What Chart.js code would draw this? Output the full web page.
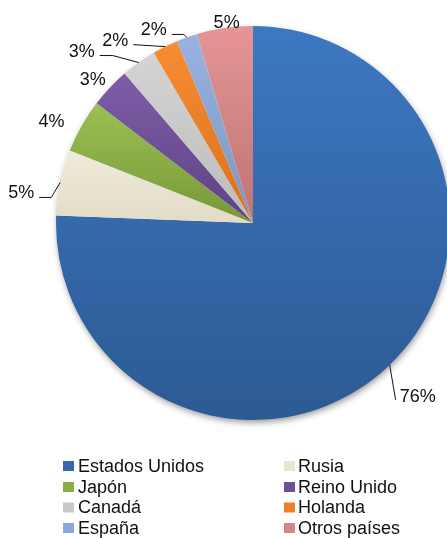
<!DOCTYPE html>
<html>
<head>
<meta charset="utf-8">
<script src="https://cdn.jsdelivr.net/npm/chart.js@4/dist/chart.umd.min.js"></script>
<style>
html,body{margin:0;padding:0;background:#fff;}
#wrap{width:447px;height:538px;position:relative;}
</style>
</head>
<body>
<div id="wrap"><canvas id="c" width="447" height="538"></canvas></div>
<script>
// ---- data ----
const categories = ["Estados Unidos","Rusia","Japón","Reino Unido","Canadá","Holanda","España","Otros países"];
const shares = [75.6, 5.4, 4.4, 3.3, 2.9, 2.1, 1.7, 4.6];

// ---- styles ----
const topColors    = ["#3D78C2","#EFEBDA","#9CC052","#7F5DA7","#D4D4D4","#F88C33","#98B3E1","#E69595"];
const bottomColors = ["#2C5A93","#E2DCC6","#789739","#5D4384","#BBBBBB","#D8711F","#7C96C0","#BC7474"];
const legendColors = ["#3768AC","#EAE5D1","#8AAE46","#6D5096","#C9C9C9","#EC7F2A","#8CA8D8","#D58585"];
const R = 197;
const FONT = '18px "Liberation Sans", Arial, sans-serif';
// label placement relative to slice edge point: [dx, dy, leader?, knee]
const labelLayout = [
  {dx:28, dy:32, leader:true, knee:0, side:'left'},
  {dx:-39, dy:11, leader:true, knee:12, side:'right'},
  {dx:-30, dy:-4, leader:false},
  {dx:-17, dy:-8, leader:false},
  {dx:-57, dy:-11, leader:true, knee:13, side:'right'},
  {dx:-50, dy:-6, leader:true, knee:0, side:'right'},
  {dx:-33, dy:-7, leader:true, knee:12, side:'right'},
  {dx:2, dy:-5, leader:false}
];

const total = shares.reduce((a,b)=>a+b,0);
function sliceAngles(i){
  let s=0; for(let k=0;k<i;k++) s+=shares[k];
  const a0 = s/total*2*Math.PI, a1=(s+shares[i])/total*2*Math.PI;
  return [a0,a1];
}
function centerOf(chart){
  const a=chart.chartArea; return {x:(a.left+a.right)/2, y:(a.top+a.bottom)/2};
}
function pt(c,r,th){ return {x:c.x+r*Math.sin(th), y:c.y-r*Math.cos(th)}; }

function sliceFill(ctx){
  const i = ctx.dataIndex;
  const chart = ctx.chart;
  if(!chart.chartArea || i===undefined) return legendColors[i||0];
  const c = centerOf(chart);
  const [a0,a1] = sliceAngles(i);
  const ys=[c.y, pt(c,R,a0).y, pt(c,R,a1).y];
  if(a0<=0 && a1>=0) ys.push(c.y-R);
  if(a0<=Math.PI && a1>=Math.PI) ys.push(c.y+R);
  if(a0<=2*Math.PI && a1>=2*Math.PI) ys.push(c.y-R);
  const yt=Math.min(...ys), yb=Math.max(...ys);
  const g = chart.ctx.createLinearGradient(0,yt,0,yb);
  g.addColorStop(0,topColors[i]); g.addColorStop(1,bottomColors[i]);
  return g;
}

const shadowPlugin = {
  id:'shadow',
  beforeDatasetsDraw(chart){
    const c=centerOf(chart), ctx=chart.ctx;
    ctx.save();
    ctx.shadowColor='rgba(0,0,0,0.45)';
    ctx.shadowBlur=7; ctx.shadowOffsetX=1; ctx.shadowOffsetY=3;
    ctx.fillStyle='#ffffff';
    ctx.beginPath(); ctx.arc(c.x,c.y,R-1,0,Math.PI*2); ctx.fill();
    ctx.restore();
  }
};

const labelPlugin = {
  id:'plabels',
  afterDatasetsDraw(chart){
    const c=centerOf(chart), ctx=chart.ctx;
    ctx.save();
    ctx.font=FONT; ctx.fillStyle='#111'; ctx.textAlign='center'; ctx.textBaseline='middle';
    ctx.strokeStyle='#111'; ctx.lineWidth=1;
    shares.forEach((v,i)=>{
      const [a0,a1]=sliceAngles(i);
      const e=pt(c,R,(a0+a1)/2);
      const L=labelLayout[i];
      const tx=e.x+L.dx, ty=e.y+L.dy;
      const txt=Math.round(v/total*100)+'%';
      ctx.fillText(txt,tx,ty);
      if(L.leader){
        const w=ctx.measureText(txt).width;
        let ex,kx,ey;
        if(L.side==='left'){ ex=tx-w/2-4; ey=ty+3; kx=ex-L.knee; }
        else { ex=tx+w/2+5; ey=ty+4; kx=ex+L.knee; }
        ctx.beginPath(); ctx.moveTo(e.x,e.y); ctx.lineTo(kx,ey); ctx.lineTo(ex,ey); ctx.stroke();
      }
    });
    ctx.restore();
  }
};

const legendPlugin = {
  id:'legend2',
  afterDraw(chart){
    const ctx=chart.ctx;
    const colMarkX=[63,284], colTextX=[78,298], rowY=[466,487,507.5,528];
    ctx.save(); ctx.font=FONT; ctx.fillStyle='#111'; ctx.textAlign='left'; ctx.textBaseline='middle';
    categories.forEach((name,i)=>{
      const col=i%2, row=Math.floor(i/2);
      ctx.fillStyle=legendColors[i];
      ctx.fillRect(colMarkX[col],rowY[row]-5,11,10);
      ctx.fillStyle='#111';
      ctx.fillText(name,colTextX[col],rowY[row]+1);
    });
    ctx.restore();
  }
};

new Chart(document.getElementById('c'),{
  type:'pie',
  data:{labels:categories,datasets:[{data:shares,backgroundColor:sliceFill,borderWidth:0,hoverOffset:0}]},
  options:{
    responsive:false, animation:false, radius:R, rotation:0,
    layout:{padding:{left:59,right:0,top:26,bottom:118}},
    plugins:{legend:{display:false},tooltip:{enabled:false}},
    events:[]
  },
  plugins:[shadowPlugin,labelPlugin,legendPlugin]
});
</script>
</body>
</html>
